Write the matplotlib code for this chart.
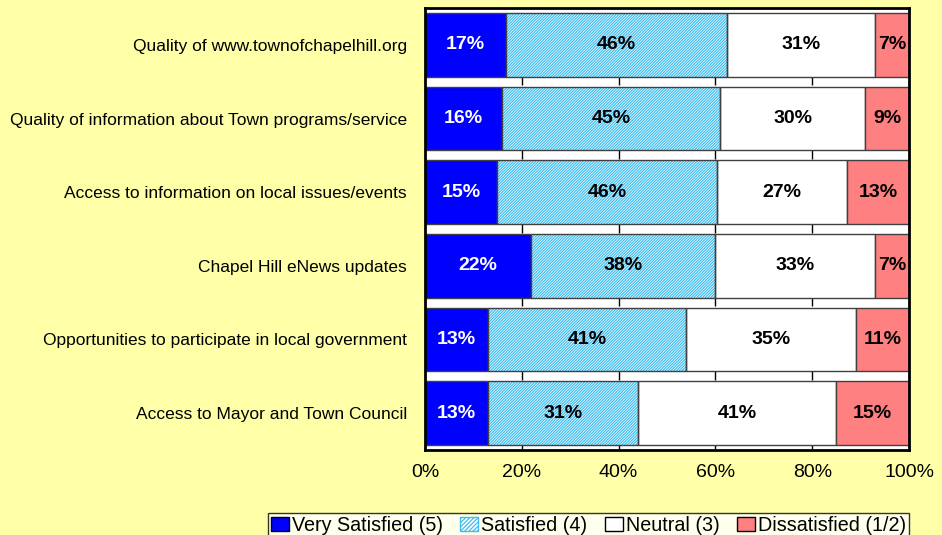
import matplotlib
matplotlib.use("Agg")
import matplotlib.pyplot as plt
import numpy as np
from matplotlib.patches import Patch

plt.rcParams['font.family'] = ['Liberation Sans', 'DejaVu Sans']
plt.rcParams['hatch.linewidth'] = 0.9

categories = [
    "Quality of www.townofchapelhill.org",
    "Quality of information about Town programs/service",
    "Access to information on local issues/events",
    "Chapel Hill eNews updates",
    "Opportunities to participate in local government",
    "Access to Mayor and Town Council",
]
series_names = ["Very Satisfied (5)", "Satisfied (4)", "Neutral (3)", "Dissatisfied (1/2)"]
very_satisfied = [17, 16, 15, 22, 13, 13]
satisfied = [46, 45, 46, 38, 41, 31]
neutral = [31, 30, 27, 33, 35, 41]
dissatisfied = [7, 9, 13, 7, 11, 15]
xtick_labels = ["0%", "20%", "40%", "60%", "80%", "100%"]

BG = "#FFFFA8"
HATCH_C = "#40BEF0"
fig = plt.figure(figsize=(9.42, 5.35), dpi=100, facecolor=BG)
ax = fig.add_axes([425/942, 1-450/535, (909-425)/942, (450-8)/535])
ax.set_facecolor("white")

data = np.array([very_satisfied, satisfied, neutral, dissatisfied], dtype=float)
totals = data.sum(axis=0)
shares = data / totals * 100  # stacked to 100%

n = len(categories)
y = np.arange(n)[::-1]
h = 0.86
edge = "#404040"
left = np.zeros(n)
for i in range(4):
    w = shares[i]
    if i == 0:
        ax.barh(y, w, left=left, height=h, color="#0000FF", edgecolor=edge, linewidth=1, zorder=2)
    elif i == 1:
        ax.barh(y, w, left=left, height=h, color="white", edgecolor=HATCH_C, hatch="////////////",
                linewidth=0, zorder=2)
        ax.barh(y, w, left=left, height=h, fill=False, edgecolor=edge, linewidth=1, zorder=3)
    elif i == 2:
        ax.barh(y, w, left=left, height=h, color="white", edgecolor=edge, linewidth=1, zorder=2)
    else:
        ax.barh(y, w, left=left, height=h, color="#FF8080", edgecolor=edge, linewidth=1, zorder=2)
    for j in range(n):
        ax.text(left[j] + w[j] / 2, y[j], f"{int(data[i][j])}%", ha="center", va="center",
                fontsize=14, fontweight="bold", color="white" if i == 0 else "black", zorder=5)
    left = left + w

ax.set_xlim(0, 100)
ax.set_ylim(-0.5, n - 0.5)
ax.set_yticks(y)
ax.set_yticklabels(categories, fontsize=12.5)
ax.tick_params(axis='y', length=0, pad=13)
ax.set_xticks(np.arange(0, 101, 20))
ax.set_xticklabels(xtick_labels, fontsize=14)
ax.tick_params(axis='x', direction='in', length=4, width=1, pad=10)

# small tick marks in each gap between bars
for k in range(n - 1):
    yb = k + 0.5
    ax.vlines(np.arange(20, 100, 20), yb - 0.05, yb + 0.07, color="black", linewidth=1, zorder=1)

for s in ax.spines.values():
    s.set_linewidth(2)
    s.set_color("black")

handles = [
    Patch(facecolor="#0000FF", edgecolor="black", label=series_names[0]),
    Patch(facecolor="white", edgecolor=HATCH_C, hatch="////////", label=series_names[1]),
    Patch(facecolor="white", edgecolor="black", label=series_names[2]),
    Patch(facecolor="#FF8080", edgecolor="black", label=series_names[3]),
]
leg = fig.legend(handles=handles, loc="lower right", bbox_to_anchor=(909/942, -0.005), ncol=4,
                 fontsize=14.2, frameon=True, fancybox=False, edgecolor="black",
                 handlelength=0.9, handleheight=0.7, handletextpad=0.15, columnspacing=0.9,
                 borderpad=0.15, borderaxespad=0)
leg.get_frame().set_linewidth(1)
leg.get_frame().set_facecolor("white")

fig.savefig("out.png", dpi=100, facecolor=BG)
